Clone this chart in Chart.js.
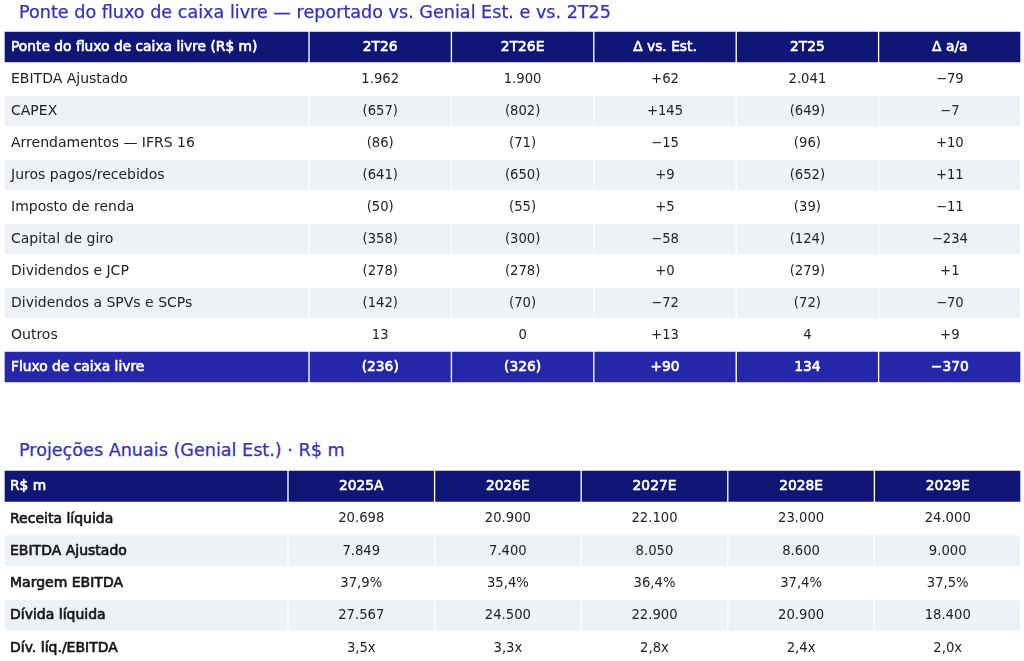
<!DOCTYPE html>
<html lang="pt-BR">
<head>
<meta charset="utf-8">
<title>Ponte do fluxo de caixa livre</title>
<script src="https://cdn.jsdelivr.net/npm/chart.js@4.4.1/dist/chart.umd.min.js"></script>
<style>
  html, body { margin: 0; padding: 0; background: #ffffff; width: 1024px; height: 661px; overflow: hidden; }
  .title { position: absolute; left: 19px; font-family: "DejaVu Sans", sans-serif; font-size: 17.6px; line-height: 17.6px; color: #3032bc; -webkit-text-stroke: 0.25px #3032bc; white-space: nowrap; z-index: 2; }
  #t1 { top: 4px; }
  #t2 { top: 442px; }
  canvas { position: absolute; left: 0; }
  #c1 { top: 0px; }
  #c2 { top: 466px; }
</style>
</head>
<body>
<div class="title" id="t1">Ponte do fluxo de caixa livre — reportado vs. Genial Est. e vs. 2T25</div>
<div class="title" id="t2">Projeções Anuais (Genial Est.) · R$ m</div>
<canvas id="c1" width="1024" height="400"></canvas>
<canvas id="c2" width="1024" height="230"></canvas>
<script>
// ---------- Data: table 1 (R$ m) ----------
const bridgeHeaders = ["Ponte do fluxo de caixa livre (R$ m)", "2T26", "2T26E", "Δ vs. Est.", "2T25", "Δ a/a"];
const bridgeRows = ["EBITDA Ajustado", "CAPEX", "Arrendamentos — IFRS 16", "Juros pagos/recebidos", "Imposto de renda", "Capital de giro", "Dividendos e JCP", "Dividendos a SPVs e SCPs", "Outros", "Fluxo de caixa livre"];
const q2T26  = [1962, -657, -86, -641, -50, -358, -278, -142, 13, -236];
const q2T26E = [1900, -802, -71, -650, -55, -300, -278, -70, 0, -326];
const deltaEst = [62, 145, -15, 9, 5, -58, 0, -72, 13, 90];
const q2T25  = [2041, -649, -96, -652, -39, -124, -279, -72, 4, 134];
const deltaYoY = [-79, -7, 10, 11, -11, -234, 1, -70, 9, -370];

// ---------- Data: table 2 (R$ m) ----------
const projHeaders = ["R$ m", "2025A", "2026E", "2027E", "2028E", "2029E"];
const projRows = ["Receita líquida", "EBITDA Ajustado", "Margem EBITDA", "Dívida líquida", "Dív. líq./EBITDA"];
const receita = [20698, 20900, 22100, 23000, 24000];
const ebitda = [7849, 7400, 8050, 8600, 9000];
const margem = [37.9, 35.4, 36.4, 37.4, 37.5];
const dividaLiq = [27567, 24500, 22900, 20900, 18400];
const alavancagem = [3.5, 3.3, 2.8, 2.4, 2.0];

// ---------- Formatting ----------
function thousands(n) { return String(n).replace(/\B(?=(\d{3})+(?!\d))/g, "."); }
function fmtVal(v) { return v < 0 ? "(" + thousands(-v) + ")" : thousands(v); }
function fmtDelta(v) { return v < 0 ? "\u2212" + thousands(-v) : "+" + thousands(v); }
function fmtDec(v) { return v.toFixed(1).replace(".", ","); }

const bridgeCols = [q2T26, q2T26E, deltaEst, q2T25, deltaYoY];
const bridgeFmt = [fmtVal, fmtVal, fmtDelta, fmtVal, fmtDelta];
function bridgeCell(r, c) {
  if (c === 0) return bridgeRows[r];
  return bridgeFmt[c - 1](bridgeCols[c - 1][r]);
}
const projSeries = [receita, ebitda, margem, dividaLiq, alavancagem];
const projFmt = [thousands, thousands, v => fmtDec(v) + "%", thousands, v => fmtDec(v) + "x"];
function projCell(r, c) {
  if (c === 0) return projRows[r];
  return projFmt[r](projSeries[r][c - 1]);
}

// ---------- Table builder on Chart.js floating bars ----------
const FONT = '"DejaVu Sans", sans-serif';
const NAVY = "#0f1675";
const BLUE = "#2626a8";
const GREY = "#eef1f6";

function buildTable(canvasId, headers, nRows, cellFn, cfg) {
  const yLabels = ["__header"].concat(Array.from({ length: nRows }, (_, i) => "r" + i));
  const starts = [];
  let acc = 0;
  cfg.colWeights.forEach(w => { starts.push(acc); acc += w; });
  const rowColor = i => (i === 0 ? NAVY : cfg.rowColor(i - 1));
  const datasets = headers.map((h, c) => ({
    label: h,
    data: yLabels.map(() => [starts[c], starts[c] + cfg.colWeights[c]]),
    backgroundColor: yLabels.map((_, i) => rowColor(i)),
    borderColor: "#ffffff",
    borderWidth: 1,
    borderSkipped: false,
    barPercentage: 1,
    categoryPercentage: 1,
    grouped: false
  }));

  const textPlugin = {
    id: "cellText",
    afterDatasetsDraw(chart) {
      const ctx = chart.ctx;
      ctx.save();
      ctx.textBaseline = "middle";
      ctx.lineJoin = "round";
      chart.data.datasets.forEach((ds, c) => {
        const meta = chart.getDatasetMeta(c);
        meta.data.forEach((el, i) => {
          const p = el.getProps(["x", "y", "base"], true);
          const left = Math.min(p.x, p.base), right = Math.max(p.x, p.base);
          let text, size, color, semibold;
          if (i === 0) {
            text = headers[c];
            size = cfg.headFont; semibold = true;
            color = "#ffffff";
          } else {
            text = cellFn(i - 1, c);
            const total = cfg.totalRow === i - 1;
            if (total) {
              size = cfg.headFont; semibold = true;
            } else if (c === 0) {
              size = cfg.labelFont; semibold = cfg.labelBold;
            } else {
              size = cfg.valueFont; semibold = false;
            }
            color = total ? "#ffffff" : (c === 0 ? cfg.labelColor : "#222222");
          }
          ctx.font = size + "px " + FONT;
          ctx.fillStyle = color;
          ctx.strokeStyle = color;
          ctx.lineWidth = 0.65;
          let tx;
          if (c === 0) {
            ctx.textAlign = "left";
            tx = left + cfg.textPad;
          } else {
            ctx.textAlign = "center";
            tx = (left + right) / 2;
          }
          if (semibold) ctx.strokeText(text, tx, p.y + 0.5);
          ctx.fillText(text, tx, p.y + 0.5);
        });
      });
      ctx.restore();
    }
  };

  return new Chart(document.getElementById(canvasId), {
    type: "bar",
    data: { labels: yLabels, datasets },
    options: {
      indexAxis: "y",
      responsive: false,
      animation: false,
      devicePixelRatio: 1,
      layout: { padding: cfg.padding },
      plugins: { legend: { display: false }, tooltip: { enabled: false }, title: { display: false } },
      scales: {
        x: { type: "linear", min: 0, max: acc, display: false },
        y: { type: "category", display: false, offset: true }
      }
    },
    plugins: [textPlugin]
  });
}

buildTable("c1", bridgeHeaders, bridgeRows.length, bridgeCell, {
  colWeights: [2.142, 1, 1, 1, 1, 1],
  rowColor: r => (r === 9 ? BLUE : (r % 2 === 1 ? GREY : "#ffffff")),
  totalRow: 9,
  padding: { top: 31, bottom: 17, left: 4, right: 3 },
  headFont: 13.8, labelFont: 14, valueFont: 13.2,
  labelBold: false, labelColor: "#222222", textPad: 7
});

buildTable("c2", projHeaders, projRows.length, projCell, {
  colWeights: [1.937, 1, 1, 1, 1, 1],
  rowColor: r => (r % 2 === 1 ? GREY : "#ffffff"),
  totalRow: -1,
  padding: { top: 4, bottom: 32.2, left: 4, right: 3 },
  headFont: 13.8, labelFont: 14, valueFont: 13.2,
  labelBold: true, labelColor: "#151515", textPad: 6
});
</script>
</body>
</html>
